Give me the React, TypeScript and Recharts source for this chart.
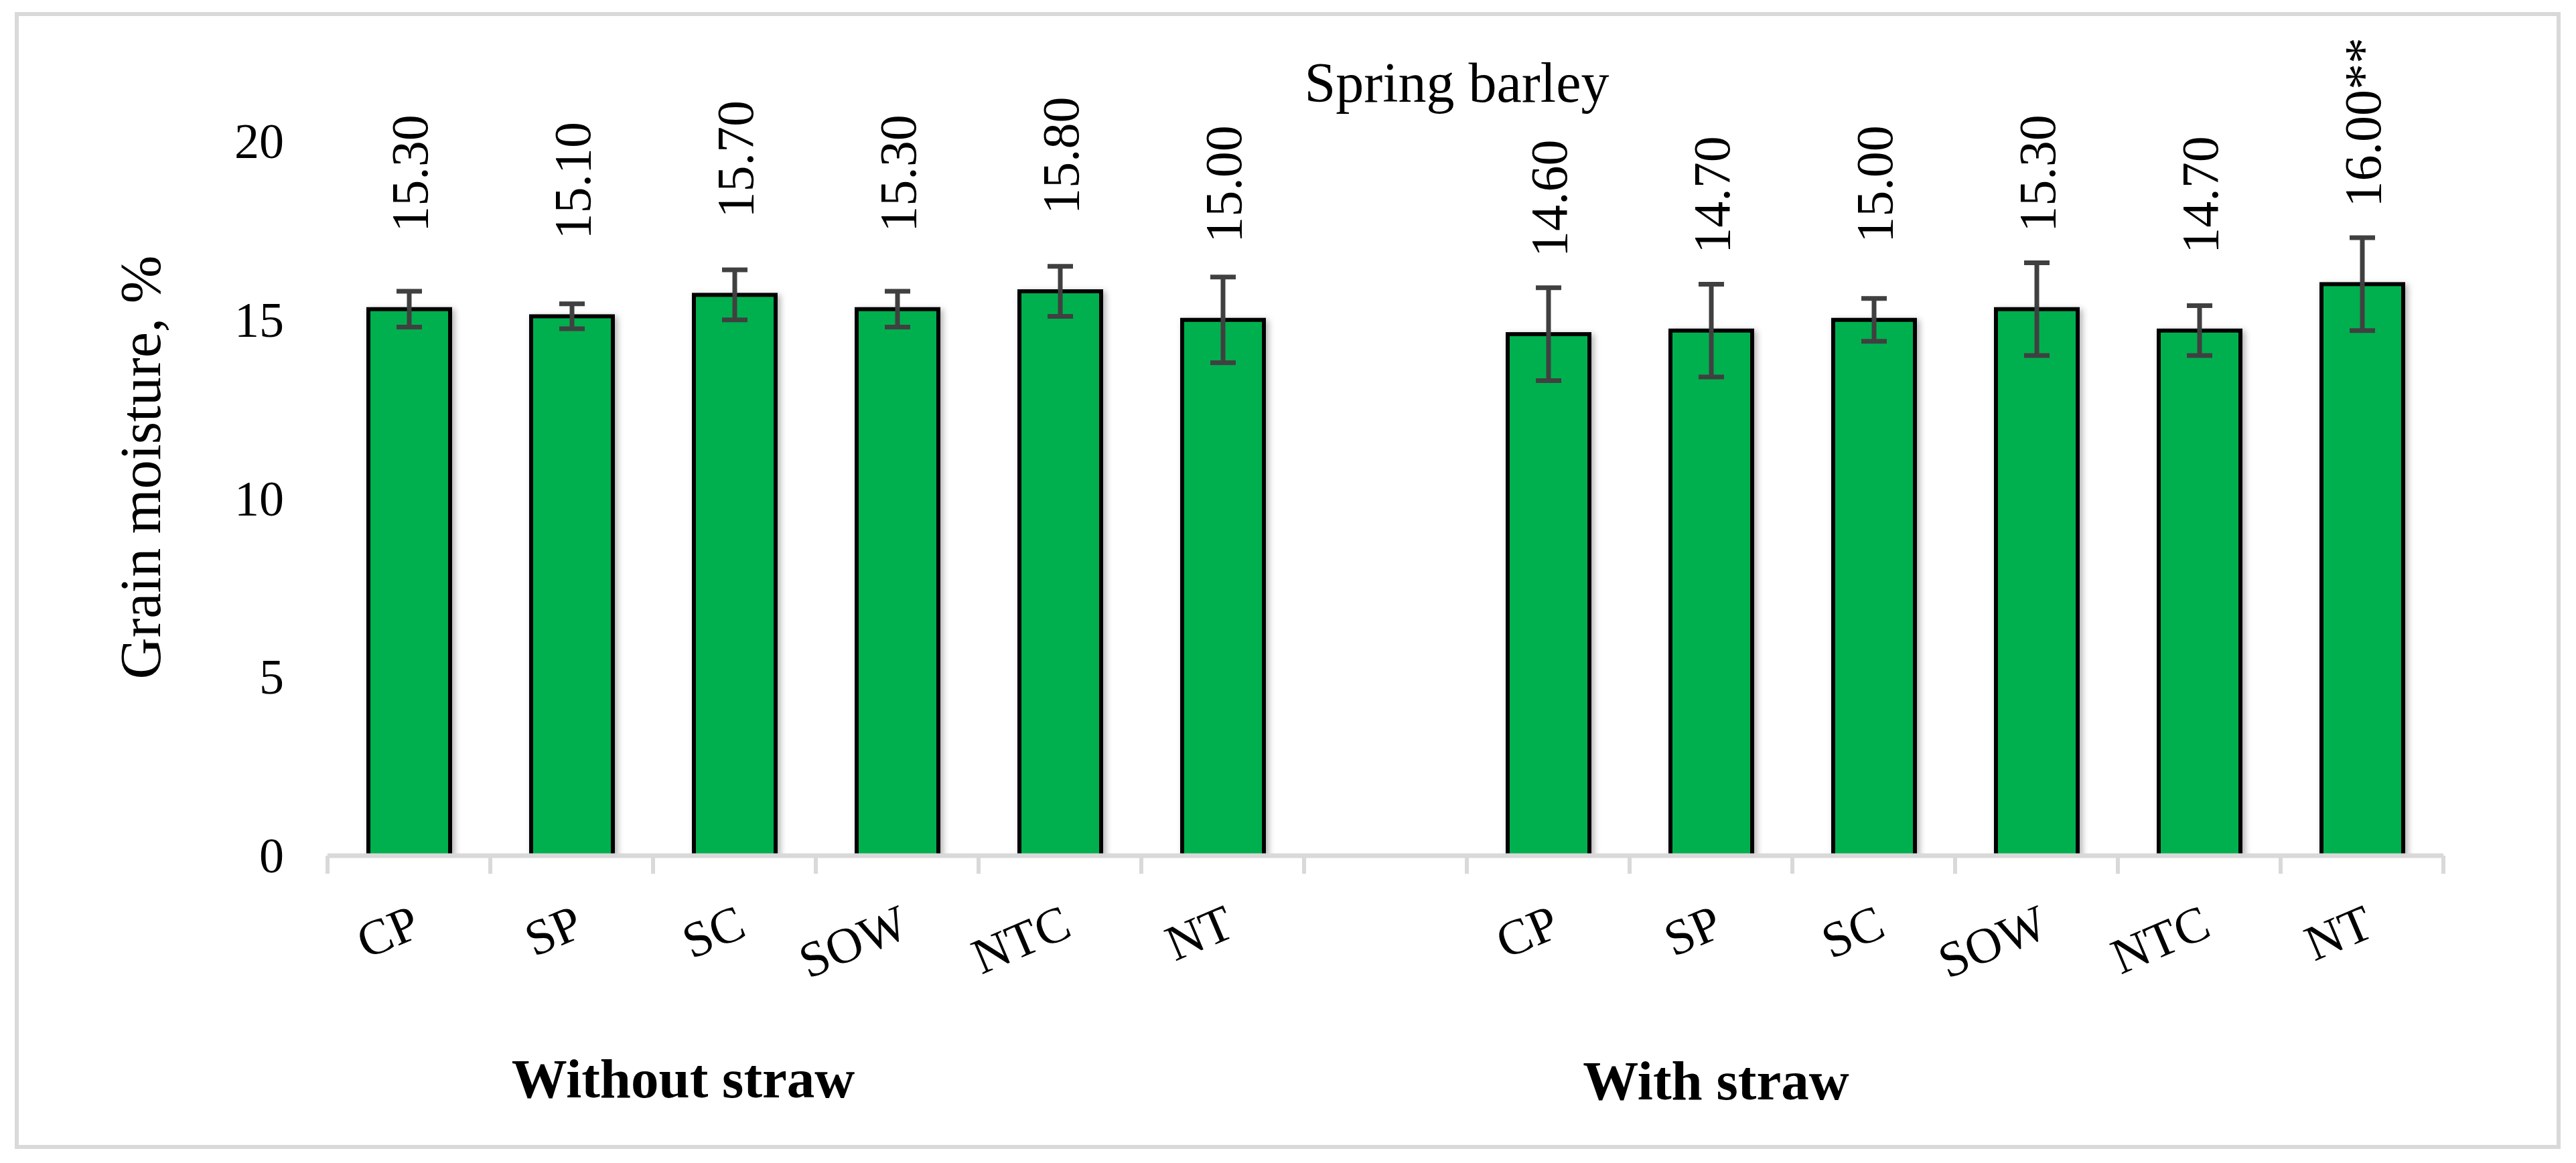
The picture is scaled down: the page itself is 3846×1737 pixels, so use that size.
import React from 'react';
import { BarChart, Bar, XAxis, YAxis, ErrorBar, LabelList } from 'recharts';

// ---- data ----
const categories = ['CP', 'SP', 'SC', 'SOW', 'NTC', 'NT', '', 'CP', 'SP', 'SC', 'SOW', 'NTC', 'NT'];
const moisture: (number | null)[] = [15.3, 15.1, 15.7, 15.3, 15.8, 15.0, null, 14.6, 14.7, 15.0, 15.3, 14.7, 16.0];
const errors: (number | null)[] = [0.5, 0.35, 0.7, 0.5, 0.7, 1.2, null, 1.3, 1.3, 0.6, 1.3, 0.7, 1.3];
const significance = ['', '', '', '', '', '', '', '', '', '', '', '', '**'];
const groupLabels = ['Without straw', 'With straw'];
const yTicks = [0, 5, 10, 15, 20];
const title = 'Spring barley';
const yTitle = 'Grain moisture, %';

// ---- layout ----
const W = 3846;
const H = 1737;
const M_TOP = 211;
const M_RIGHT = 198;
const Y_W = 489;
const X_H = 459;
const PLOT_W = W - Y_W - M_RIGHT;
const BAND = PLOT_W / categories.length;
const AXIS_Y = H - X_H;
const FONT = "'Liberation Serif', 'Times New Roman', Times, serif";
const GREEN = '#00B050';

const data = categories.map((c, i) => ({
  key: `k${i}`,
  cat: c,
  value: moisture[i],
  err: errors[i],
  label: moisture[i] == null ? '' : (moisture[i] as number).toFixed(2) + significance[i],
}));

const XTick = (props: any) => {
  const { x, index } = props;
  const left = x - BAND / 2;
  const right = x + BAND / 2;
  const ly = AXIS_Y + 70;
  return (
    <g>
      <line x1={left} y1={AXIS_Y} x2={left} y2={AXIS_Y + 27} stroke="#d9d9d9" strokeWidth={6} />
      {index === categories.length - 1 && (
        <line x1={right} y1={AXIS_Y} x2={right} y2={AXIS_Y + 27} stroke="#d9d9d9" strokeWidth={6} />
      )}
      <text
        x={x}
        y={ly}
        dy="0.71em"
        textAnchor="end"
        transform={`rotate(-23, ${x}, ${ly})`}
        fontFamily={FONT}
        fontSize={75}
        fill="#000"
      >
        {categories[index]}
      </text>
    </g>
  );
};

const YTick = (props: any) => {
  const { y, payload } = props;
  return (
    <text x={Y_W - 65} y={y} dy="0.34em" textAnchor="end" fontFamily={FONT} fontSize={74} fill="#000">
      {payload.value}
    </text>
  );
};

const BarShape = (props: any) => {
  const { x, y, width, height } = props;
  if (props.value == null || !(height > 0)) return null;
  return (
    <rect
      x={x}
      y={y}
      width={width}
      height={height}
      fill={GREEN}
      stroke="#000"
      strokeWidth={6}
      filter="url(#barShadow)"
    />
  );
};

const ValueLabel = (props: any) => {
  const vb = props.viewBox || {};
  const x = props.x ?? vb.x;
  const y = props.y ?? vb.y;
  const width = props.width ?? vb.width;
  const value = props.value;
  if (!value || x == null || y == null) return null;
  const cx = x + width / 2;
  const y0 = y - 115;
  return (
    <text
      x={cx}
      y={y0}
      dy="0.34em"
      textAnchor="start"
      transform={`rotate(-90, ${cx}, ${y0})`}
      fontFamily={FONT}
      fontSize={78}
      fill="#000"
    >
      {value}
    </text>
  );
};

export default function App() {
  return (
    <div style={{ position: 'absolute', left: 0, top: 0, width: W, height: H, background: '#fff' }}>
      <svg width={W} height={H} style={{ position: 'absolute', left: 0, top: 0 }}>
        <rect x={25} y={21} width={3795} height={1692} fill="#fff" stroke="#d9d9d9" strokeWidth={6} />
        <text x={2175} y={152} textAnchor="middle" fontFamily={FONT} fontSize={84} fill="#000">
          {title}
        </text>
        <text
          x={239}
          y={698}
          textAnchor="middle"
          transform="rotate(-90, 239, 698)"
          fontFamily={FONT}
          fontSize={86}
          fill="#000"
        >
          {yTitle}
        </text>
        <text x={1020} y={1639} textAnchor="middle" fontFamily={FONT} fontSize={83} fontWeight="bold" fill="#000">
          {groupLabels[0]}
        </text>
        <text x={2562} y={1642} textAnchor="middle" fontFamily={FONT} fontSize={83} fontWeight="bold" fill="#000">
          {groupLabels[1]}
        </text>
      </svg>
      <div style={{ position: 'absolute', left: 0, top: 0 }}>
        <BarChart
          width={W}
          height={H}
          data={data}
          margin={{ top: M_TOP, right: M_RIGHT, bottom: 0, left: 0 }}
        >
          <defs>
            <filter id="barShadow" x="-20%" y="-10%" width="150%" height="130%">
              <feDropShadow dx="4" dy="3" stdDeviation="5" floodColor="#000" floodOpacity="0.3" />
            </filter>
          </defs>
          <XAxis
            dataKey="key"
            type="category"
            height={X_H}
            interval={0}
            axisLine={{ stroke: '#d9d9d9', strokeWidth: 7 }}
            tickLine={false}
            tick={<XTick />}
          />
          <YAxis
            width={Y_W}
            domain={[0, 20]}
            ticks={yTicks}
            axisLine={false}
            tickLine={false}
            tick={<YTick />}
            allowDataOverflow
          />
          <Bar dataKey="value" barSize={122} isAnimationActive={false} shape={<BarShape />}>
            <ErrorBar dataKey="err" width={19} stroke="#404040" strokeWidth={7} />
            <LabelList dataKey="label" content={<ValueLabel />} />
          </Bar>
        </BarChart>
      </div>
    </div>
  );
}
